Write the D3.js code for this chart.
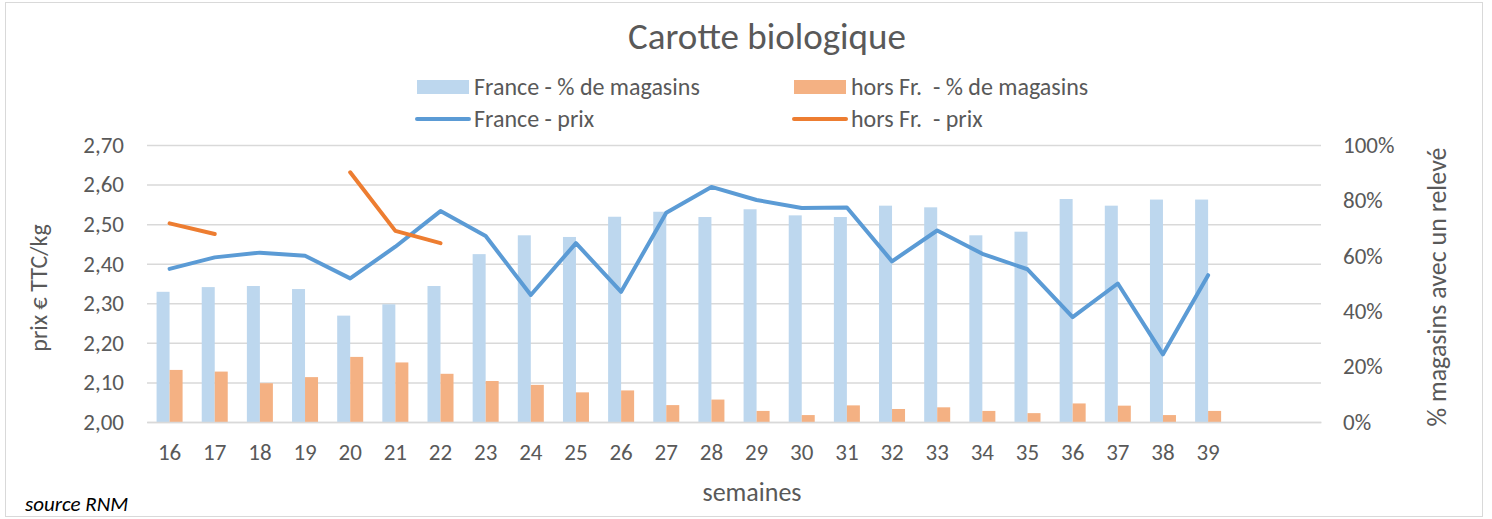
<!DOCTYPE html>
<html>
<head>
<meta charset="utf-8">
<script src="https://cdn.jsdelivr.net/npm/d3@7"></script>
<style>
  body { margin: 0; background: #fff; }
  svg text { font-family: Carlito, Calibri, Lato, sans-serif; fill: #595959; }
</style>
</head>
<body>
<div class="viz"></div>
<script>
// weeks shown on the x axis (two empty slots follow week 39)
const weeks = ['16', '17', '18', '19', '20', '21', '22', '23', '24', '25', '26', '27',
  '28', '29', '30', '31', '32', '33', '34', '35', '36', '37', '38', '39'];
const emptySlots = 2;

// share of shops with a reading
const francePct = [0.47, 0.487, 0.491, 0.48, 0.384, 0.425, 0.491, 0.606, 0.674, 0.668,
  0.741, 0.759, 0.74, 0.768, 0.746, 0.74, 0.781, 0.775, 0.674, 0.687, 0.805, 0.781, 0.803, 0.803];
const horsPct = [0.188, 0.182, 0.14, 0.162, 0.235, 0.215, 0.174, 0.148, 0.134, 0.107,
  0.114, 0.061, 0.081, 0.04, 0.025, 0.06, 0.047, 0.053, 0.04, 0.032, 0.067, 0.059, 0.025, 0.04];

// price € TTC/kg
const francePrix = [2.387, 2.416, 2.428, 2.42, 2.363, 2.443, 2.533, 2.47, 2.321, 2.452,
  2.329, 2.529, 2.594, 2.561, 2.541, 2.542, 2.406, 2.484, 2.425, 2.386, 2.265, 2.35, 2.171, 2.371];
const horsPrix = [2.502, 2.475, null, null, 2.631, 2.483, 2.452, null, null, null,
  null, null, null, null, null, null, null, null, null, null, null, null, null, null];

const prixTicks = [2.0, 2.1, 2.2, 2.3, 2.4, 2.5, 2.6, 2.7];
const pctTicks = [0, 0.2, 0.4, 0.6, 0.8, 1];

const legendItems = [
  { label: 'France - % de magasins', color: '#BDD7EE', type: 'bar' },
  { label: 'hors Fr.  - % de magasins', color: '#F4B183', type: 'bar' },
  { label: 'France - prix', color: '#5B9BD5', type: 'line' },
  { label: 'hors Fr.  - prix', color: '#ED7D31', type: 'line' }
];

const W = 1492, H = 519;
const plot = { left: 147, right: 1321, top: 145, bottom: 422 };

const svg = d3.select('.viz')
  .append('svg')
  .attr('width', W)
  .attr('height', H);

// chart border
svg.append('rect')
  .attr('x', 5.5).attr('y', 2.5)
  .attr('width', 1477).attr('height', 514)
  .attr('fill', '#fff')
  .attr('stroke', '#D9D9D9');

const x = d3.scaleBand()
  .domain(d3.range(weeks.length + emptySlots))
  .range([plot.left, plot.right]);
const yPrix = d3.scaleLinear().domain([2.0, 2.7]).range([plot.bottom, plot.top]);
const yPct = d3.scaleLinear().domain([0, 1]).range([plot.bottom, plot.top]);

const fmtPrix = d => d3.format('.2f')(d).replace('.', ',');

// gridlines
svg.append('g')
  .attr('transform', 'translate(' + plot.left + ',0)')
  .call(d3.axisLeft(yPrix).tickValues(prixTicks).tickSize(-(plot.right - plot.left)).tickFormat(''))
  .call(g => g.select('.domain').remove())
  .call(g => g.selectAll('line').attr('stroke', '#D9D9D9').attr('stroke-width', 1.5));

// left axis labels
svg.append('g')
  .attr('transform', 'translate(' + plot.left + ',0)')
  .call(d3.axisLeft(yPrix).tickValues(prixTicks).tickSize(0).tickPadding(23).tickFormat(fmtPrix))
  .call(g => g.select('.domain').remove())
  .call(g => g.selectAll('text').style('font-size', '23px'));

// right axis labels
svg.append('g')
  .attr('transform', 'translate(' + plot.right + ',0)')
  .call(d3.axisRight(yPct).tickValues(pctTicks).tickSize(0).tickPadding(22).tickFormat(d3.format('.0%')))
  .call(g => g.select('.domain').remove())
  .call(g => g.selectAll('text').style('font-size', '23px'));

// bars
const barW = x.bandwidth() * 0.288;
const bars = svg.append('g');
bars.selectAll('.fr')
  .data(francePct)
  .join('rect')
  .attr('x', (d, i) => x(i) + x.bandwidth() / 2 - barW)
  .attr('y', d => yPct(d))
  .attr('width', barW)
  .attr('height', d => yPct(0) - yPct(d))
  .attr('fill', '#BDD7EE');
bars.selectAll('.hf')
  .data(horsPct)
  .join('rect')
  .attr('x', (d, i) => x(i) + x.bandwidth() / 2)
  .attr('y', d => yPct(d))
  .attr('width', barW)
  .attr('height', d => yPct(0) - yPct(d))
  .attr('fill', '#F4B183');

// x axis baseline and labels
svg.append('g')
  .attr('transform', 'translate(0,' + plot.bottom + ')')
  .call(d3.axisBottom(x).tickSize(0).tickPadding(22).tickFormat(i => weeks[i] || ''))
  .call(g => g.select('.domain').attr('stroke', '#D9D9D9').attr('stroke-width', 1.5))
  .call(g => g.selectAll('text').style('font-size', '23px'));

// price lines
const line = d3.line()
  .defined(d => d != null)
  .x((d, i) => x(i) + x.bandwidth() / 2)
  .y(d => yPrix(d));

svg.append('path')
  .datum(francePrix)
  .attr('fill', 'none')
  .attr('stroke', '#5B9BD5')
  .attr('stroke-width', 4)
  .attr('stroke-linejoin', 'round')
  .attr('stroke-linecap', 'round')
  .attr('d', line);

svg.append('path')
  .datum(horsPrix)
  .attr('fill', 'none')
  .attr('stroke', '#ED7D31')
  .attr('stroke-width', 4)
  .attr('stroke-linejoin', 'round')
  .attr('stroke-linecap', 'round')
  .attr('d', line);

// title
svg.append('text')
  .attr('x', 767).attr('y', 49)
  .attr('text-anchor', 'middle')
  .style('font-size', '37px')
  .text('Carotte biologique');

// legend
const legPos = [[417, 87], [794, 87], [417, 119], [794, 119]];
const leg = svg.append('g');
legendItems.forEach((item, i) => {
  const [lx, ly] = legPos[i];
  if (item.type === 'bar') {
    leg.append('rect').attr('x', lx).attr('y', ly - 7).attr('width', 52).attr('height', 14).attr('fill', item.color);
  } else {
    leg.append('line').attr('x1', lx).attr('x2', lx + 52).attr('y1', ly).attr('y2', ly)
      .attr('stroke', item.color).attr('stroke-width', 4).attr('stroke-linecap', 'round');
  }
  leg.append('text')
    .attr('x', lx + 57).attr('y', ly).attr('dy', '0.35em')
    .style('font-size', '24px')
    .style('white-space', 'pre')
    .text(item.label);
});

// axis titles
svg.append('text')
  .attr('transform', 'translate(47,288) rotate(-90)')
  .attr('text-anchor', 'middle')
  .style('font-size', '24px')
  .text('prix € TTC/kg');

svg.append('text')
  .attr('transform', 'translate(1446,287) rotate(-90)')
  .attr('text-anchor', 'middle')
  .style('font-size', '26px')
  .text('% magasins avec un relevé');

svg.append('text')
  .attr('x', 752).attr('y', 501)
  .attr('text-anchor', 'middle')
  .style('font-size', '26px')
  .text('semaines');

svg.append('text')
  .attr('x', 25).attr('y', 511)
  .style('font-size', '21px')
  .style('font-style', 'italic')
  .style('fill', '#000')
  .text('source RNM');
</script>
</body>
</html>
